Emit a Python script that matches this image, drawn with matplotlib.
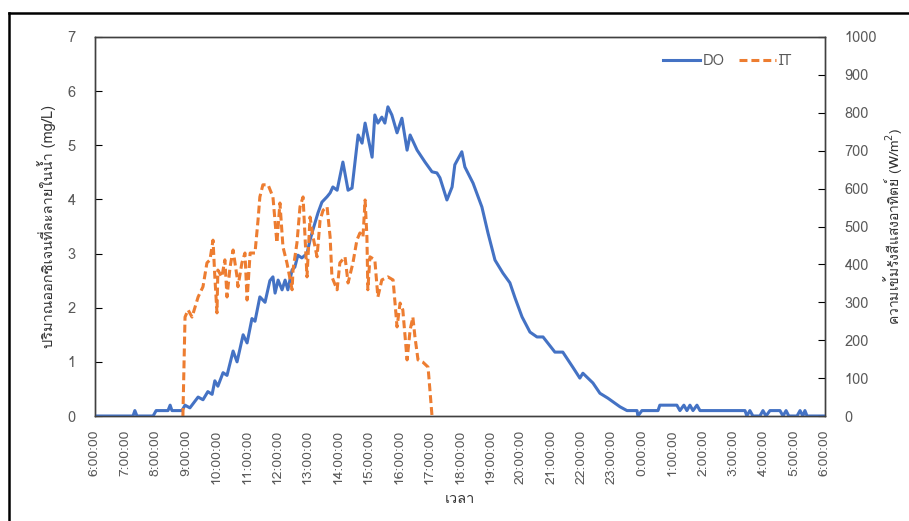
import matplotlib
matplotlib.use("Agg")
import matplotlib.pyplot as plt
from matplotlib import font_manager, ft2font
from matplotlib.lines import Line2D

# DO (mg/L), time in hours from 6:00 (30 = 6:00 next day)
do_hours = [6.0, 7.25, 7.31, 7.38, 7.91, 8.01, 8.40, 8.47, 8.53, 8.86, 8.96, 9.12, 9.39, 9.55,
            9.71, 9.85, 9.94, 10.04, 10.21, 10.34, 10.54, 10.67, 10.87, 11.00, 11.16, 11.26,
            11.42, 11.59, 11.75, 11.85, 11.92, 12.02, 12.15, 12.25, 12.34, 12.48, 12.57, 12.67,
            12.80, 12.97, 13.07, 13.17, 13.33, 13.46, 13.63, 13.73, 13.82, 13.96, 14.15, 14.32,
            14.45, 14.65, 14.78, 14.88, 15.11, 15.20, 15.30, 15.43, 15.53, 15.63, 15.76, 15.93,
            16.09, 16.26, 16.36, 16.59, 16.85, 17.08, 17.24, 17.34, 17.57, 17.74, 17.83, 18.06,
            18.16, 18.43, 18.72, 18.92, 19.15, 19.41, 19.64, 19.81, 20.04, 20.30, 20.53, 20.73,
            21.12, 21.38, 21.71, 21.94, 22.04, 22.37, 22.60, 22.86, 23.26, 23.49, 23.82, 23.85,
            23.98, 24.51, 24.57, 25.13, 25.23, 25.36, 25.46, 25.56, 25.66, 25.79, 25.89, 27.37,
            27.43, 27.53, 27.63, 27.86, 27.96, 28.06, 28.19, 28.52, 28.62, 28.72, 28.81, 29.08,
            29.18, 29.27, 29.34, 29.41, 30.0]
do_values = [0, 0, 0.1, 0, 0, 0.1, 0.1, 0.2, 0.1, 0.1, 0.2, 0.15, 0.35, 0.3,
             0.45, 0.4, 0.65, 0.55, 0.8, 0.75, 1.2, 1.0, 1.5, 1.35, 1.8, 1.75,
             2.2, 2.1, 2.5, 2.57, 2.27, 2.51, 2.33, 2.51, 2.33, 2.7, 2.75, 2.97,
             2.92, 3.0, 3.25, 3.45, 3.75, 3.95, 4.05, 4.12, 4.23, 4.17, 4.69, 4.17,
             4.21, 5.19, 5.04, 5.41, 4.78, 5.56, 5.41, 5.52, 5.41, 5.71, 5.56, 5.23,
             5.50, 4.91, 5.19, 4.91, 4.69, 4.51, 4.49, 4.40, 3.99, 4.23, 4.64, 4.88,
             4.6, 4.3, 3.86, 3.38, 2.88, 2.64, 2.46, 2.18, 1.83, 1.55, 1.46, 1.46,
             1.18, 1.18, 0.9, 0.70, 0.79, 0.61, 0.42, 0.33, 0.17, 0.1, 0.1, 0,
             0.1, 0.1, 0.2, 0.2, 0.1, 0.2, 0.1, 0.2, 0.1, 0.2, 0.1, 0.1,
             0, 0.1, 0, 0, 0.1, 0, 0.1, 0.1, 0, 0.1, 0, 0,
             0.1, 0, 0.1, 0, 0]

# solar irradiance IT (W/m2)
it_hours = [8.89, 8.96, 9.06, 9.19, 9.39, 9.55, 9.68, 9.78, 9.88, 9.94, 10.01, 10.04, 10.17,
            10.27, 10.34, 10.44, 10.54, 10.67, 10.70, 10.83, 10.93, 11.00, 11.10, 11.26, 11.36,
            11.42, 11.52, 11.59, 11.69, 11.85, 11.98, 12.08, 12.18, 12.31, 12.48, 12.51, 12.64,
            12.74, 12.84, 12.97, 13.07, 13.17, 13.30, 13.40, 13.50, 13.63, 13.73, 13.79, 13.96,
            14.05, 14.22, 14.32, 14.48, 14.61, 14.71, 14.81, 14.88, 14.94, 14.97, 15.04, 15.20,
            15.30, 15.43, 15.63, 15.80, 15.93, 16.03, 16.12, 16.26, 16.36, 16.45, 16.52, 16.62,
            16.78, 16.95, 17.08]
it_values = [0, 261, 280, 261, 314, 341, 404, 412, 464, 367, 272, 385, 367,
             412, 314, 393, 438, 367, 341, 404, 430, 306, 430, 430, 517,
             578, 610, 610, 610, 578, 457, 562, 446, 404, 333, 385, 457,
             552, 578, 367, 525, 472, 420, 517, 543, 552, 472, 367, 333,
             404, 420, 351, 404, 464, 483, 472, 570, 472, 333, 420, 412,
             314, 359, 367, 359, 235, 298, 280, 148, 227, 261, 208, 148,
             142, 129, 0]

tick_hours = list(range(6, 31))
tick_labels = [f"{h % 24}:00:00" for h in tick_hours]


def find_thai_font():
    for f in font_manager.fontManager.ttflist:
        try:
            if 0x0E27 in ft2font.FT2Font(f.fname).get_charmap():
                return f.name
        except Exception:
            pass
    return None


thai = find_thai_font()
fams = ([thai] if thai else []) + ["Liberation Sans", "DejaVu Sans"]
plt.rcParams["font.family"] = fams

gray = "#595959"
blue = "#4472C4"
orange = "#ED7D31"

fig = plt.figure(figsize=(9.09, 5.21), dpi=100)
ax = fig.add_axes([95 / 909, 105 / 521, 730 / 909, 379 / 521])
ax2 = ax.twinx()

ax.plot(do_hours, do_values, color=blue, lw=2.2, label="DO", zorder=3)
ax2.plot(it_hours, it_values, color=orange, lw=2.2, dashes=(2.6, 1.3), label="IT")

ax.set_xlim(6, 30)
ax.set_ylim(0, 7)
ax2.set_ylim(0, 1000)
ax.set_xticks(tick_hours)
ax.set_xticklabels(tick_labels, rotation=90, fontsize=10, color=gray)
ax.set_yticks(range(0, 8))
ax2.set_yticks(range(0, 1001, 100))

ax.tick_params(axis="y", direction="in", length=5, labelsize=10.5, labelcolor=gray, pad=14)
ax2.tick_params(axis="y", direction="in", length=5, labelsize=10.5, labelcolor=gray, pad=14)
ax.tick_params(axis="x", length=0, pad=10)
for a in (ax, ax2):
    for s in a.spines.values():
        s.set_color("#404040")
        s.set_linewidth(1.0)

ax.set_ylabel("ปริมาณออกซิเจนที่ละลายในน้ำ (mg/L)", fontsize=10.5, color="#333333", labelpad=8)
ax2.set_ylabel("ความเข้มรังสีแสงอาทิตย์ (W/m$^2$)", fontsize=10, color="#333333", labelpad=3)
ax.set_xlabel("เวลา", fontsize=10.5, color="#333333", labelpad=6)

h1, l1 = ax.get_legend_handles_labels()
h2, l2 = ax2.get_legend_handles_labels()
ax2.legend(h1 + h2, l1 + l2, loc="upper right", bbox_to_anchor=(0.965, 0.975), ncol=2,
           frameon=False, handlelength=2.5, handletextpad=0.2, columnspacing=1.0,
           borderpad=0, fontsize=10.5, labelcolor=gray)

# outer chart border (left and top visible)
fig.add_artist(Line2D([9 / 909, 9 / 909], [0, 1 - 13 / 521], transform=fig.transFigure,
                      color="black", lw=1.8))
fig.add_artist(Line2D([9 / 909, 1], [1 - 13 / 521, 1 - 13 / 521], transform=fig.transFigure,
                      color="black", lw=1.8))

fig.savefig("out.png", dpi=100)
